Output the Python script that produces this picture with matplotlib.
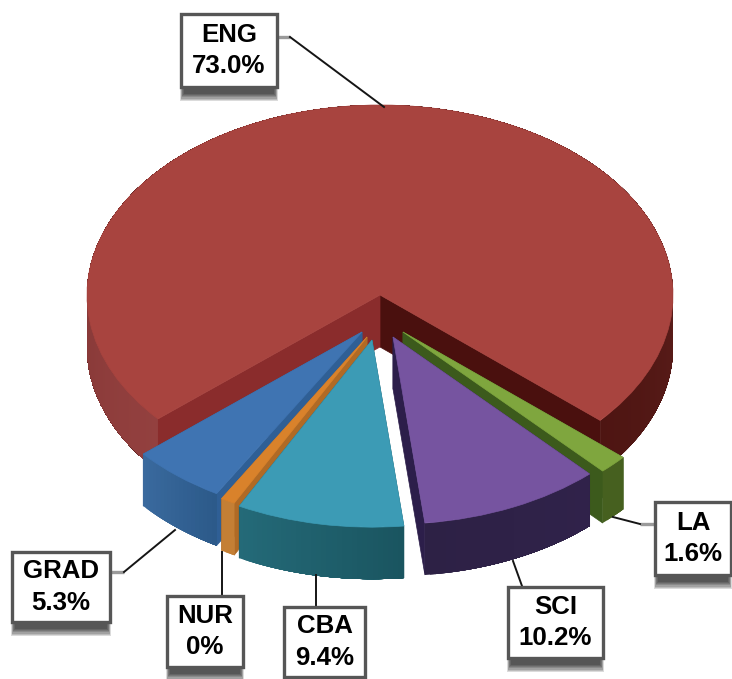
import numpy as np
import matplotlib
matplotlib.use('Agg')
import matplotlib.pyplot as plt
from matplotlib.colors import to_rgb
from matplotlib.patches import Rectangle
from matplotlib.transforms import Affine2D

# Slice data, counter clockwise starting at ENG
names = ['ENG', 'GRAD', 'NUR', 'CBA', 'SCI', 'LA']
sizes = [73.0, 5.3, 0.8, 9.4, 10.2, 1.6]  # NUR is labelled 0% but has a thin slice
labels = ['73.0%', '5.3%', '0%', '9.4%', '10.2%', '1.6%']

# Look of each slice
top_colors = ['#A8443F', '#3F74B2', '#D9822B', '#3C9BB5', '#7654A0', '#7FA63E']
rim_start = ['#4E1512', '#3A6A9E', '#C47F35', '#246A78', '#2D2145', '#46601F']
rim_end = ['#93403F', '#2C5A8A', '#C47F35', '#1A5560', '#30224A', '#46601F']
wall_start = ['#4A100E', '#2F5F95', '#B06A25', '#1A5560', '#2C1E4A', '#3C5A1C']
wall_end = ['#8A2C2C', '#2F5F95', '#B06A25', '#1A5560', '#2C1E4A', '#3C5A1C']
offsets = [(0, 0), (-18, 37), (-13, 42), (-8, 45), (13, 42), (23, 37)]
scales = [1.0, 0.985, 0.985, 0.985, 0.985, 1.0]
layers = [1, 4, 5, 6, 3, 2]

# Label boxes: x0, y0, x1, y1 in pixels
boxes = [(181, 14, 277, 87), (12, 552, 110, 622), (167, 596, 243, 667),
         (284, 607, 365, 677), (508, 587, 603, 658), (655, 502, 731, 575)]
stubs = [((277, 37), (290, 37)), ((110, 572), (124, 572)), None, None, None,
         ((655, 524), (640, 524))]
leaders = [((290, 37), (384, 107)), ((124, 572), (175, 530)), ((222, 596), (222, 552)),
           ((316, 607), (316, 575)), ((522, 586), (513, 561)), ((640, 524), (613, 517))]

cx, cy = 380, 295
rx, ry = 293, 190
depth = 52

fig = plt.figure(figsize=(7.32, 6.79), dpi=100)
ax = fig.add_axes([0, 0, 1, 1])
wedges, _ = ax.pie(sizes, startangle=-41.3, colors=top_colors)
ax.set_xlim(0, 732)
ax.set_ylim(679, 0)
ax.set_axis_off()


def to_pixels(theta, i, radius=1.0):
    a = np.radians(theta)
    x = cx + offsets[i][0] + rx * scales[i] * radius * np.cos(a)
    y = cy + offsets[i][1] - ry * scales[i] * radius * np.sin(a)
    return x, y


def draw_wall(theta, i, color, z):
    ax0, ay0 = to_pixels(theta, i, 0)
    ex, ey = to_pixels(theta, i)
    ax.fill([ax0, ex, ex, ax0], [ay0, ey, ey + depth, ay0 + depth],
            color=color, lw=0.5, zorder=z)


for i, w in enumerate(wedges):
    z = layers[i]
    # walls of the cut, then the outer rim, then the top face over them
    draw_wall(w.theta1, i, wall_start[i], z)
    draw_wall(w.theta2, i, wall_end[i], z)
    steps = max(int(w.theta2 - w.theta1), 3)
    thetas = np.linspace(w.theta1, w.theta2, steps + 1)
    c0, c1 = np.array(to_rgb(rim_start[i])), np.array(to_rgb(rim_end[i]))
    # each strip runs on to the end of the arc so no seams show between them
    for k in range(steps):
        t = k / max(steps - 1, 1)
        arc = thetas[k:]
        xs, ys = to_pixels(arc, i)
        ax.fill(np.r_[xs, xs[::-1]], np.r_[ys, ys[::-1] + depth],
                color=tuple(c0 + (c1 - c0) * t), lw=0, zorder=z + 0.1)
    w.set_transform(Affine2D().scale(rx * scales[i], -ry * scales[i])
                    .translate(cx + offsets[i][0], cy + offsets[i][1]) + ax.transData)
    w.set_zorder(z + 0.2)
    w.set_edgecolor(top_colors[i])
    w.set_linewidth(0.5)

# Leader lines
for stub in stubs:
    if stub:
        ax.plot(*zip(*stub), color='#9A9A9A', lw=2.4, solid_capstyle='butt', zorder=9)
for line in leaders:
    ax.plot(*zip(*line), color='#151515', lw=1.4, zorder=9)

# Label boxes with a soft shadow underneath
for name, label, (x0, y0, x1, y1) in zip(names, labels, boxes):
    for k in range(7):
        ax.add_patch(Rectangle((x0 - 1 + k * 0.6, y0 + 6), x1 - x0 + 2 - k * 1.2, y1 - y0 + 8 - k * 1.2,
                               facecolor='black', alpha=0.14, lw=0, zorder=10))
    ax.add_patch(Rectangle((x0, y0), x1 - x0, y1 - y0, facecolor='white',
                           edgecolor='#565656', lw=2.4, zorder=11))
    ax.text((x0 + x1) / 2, (y0 + y1) / 2, name + '\n' + label, ha='center', va='center',
            family='Liberation Sans', fontweight='bold', fontsize=18.6,
            linespacing=1.4, color='black', zorder=12)

fig.savefig('out.png', dpi=100)
